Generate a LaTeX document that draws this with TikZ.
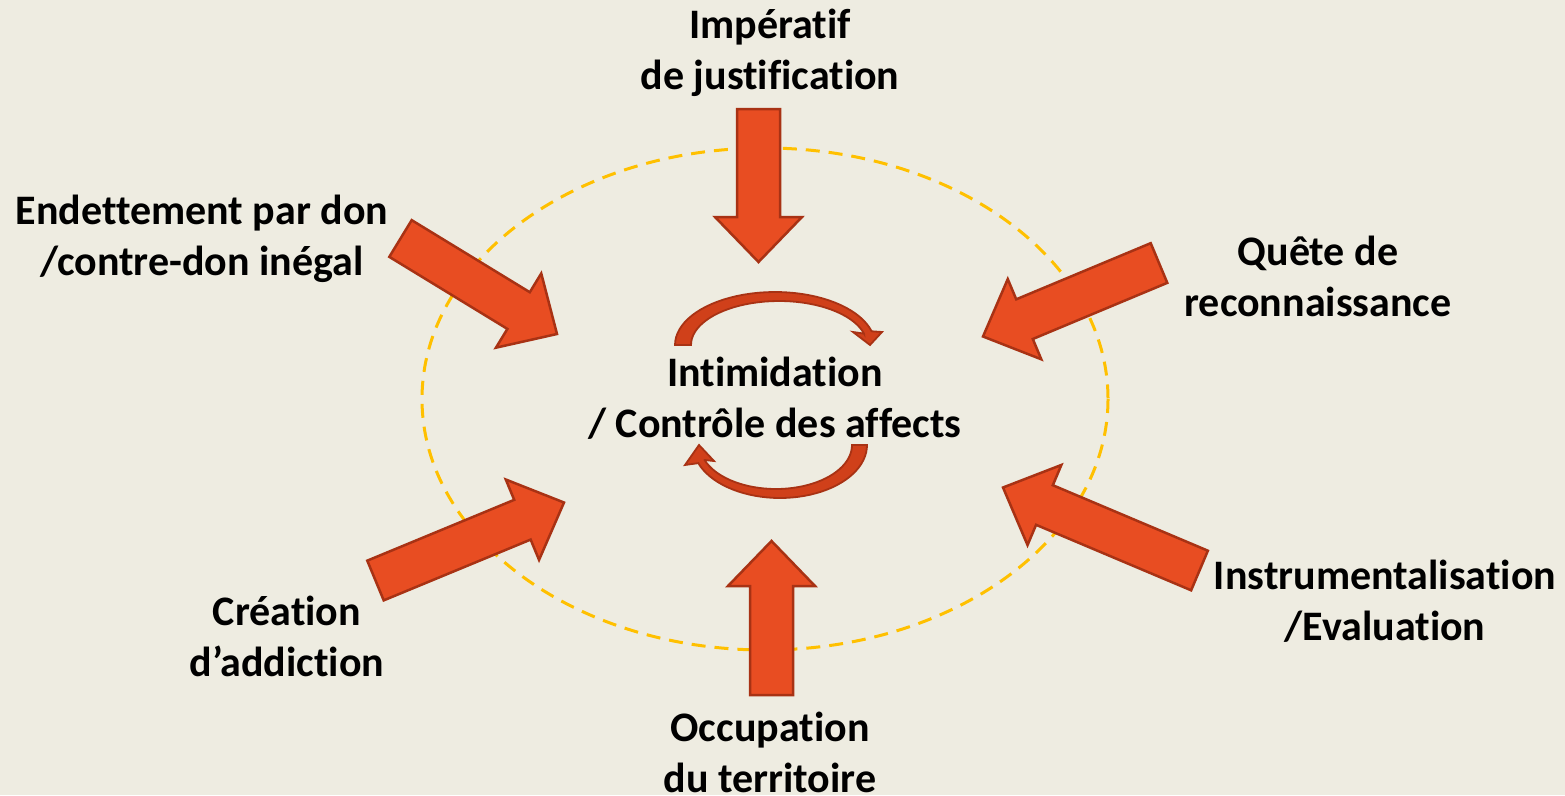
\documentclass[tikz,border=0pt]{standalone}
\usepackage{fontspec}
\setmainfont[Ligatures={NoCommon}]{Carlito}
\usetikzlibrary{calc}
\definecolor{bg}{RGB}{238,236,225}
\definecolor{arrfill}{RGB}{232,77,34}
\definecolor{arrdraw}{RGB}{168,50,20}
\definecolor{arcfill}{RGB}{208,64,26}
\definecolor{ring}{RGB}{255,192,0}
\newcommand\blockarrow[3]{%
  \coordinate (#1-t) at (#2);
  \coordinate (#1-p) at (#3);
  \coordinate (#1-h) at ($(#1-p)!45pt!(#1-t)$);
  \draw[blockarr] ($(#1-t)!21.5pt!90:(#1-p)$) -- ($(#1-h)!21.5pt!90:(#1-p)$) -- ($(#1-h)!43.5pt!90:(#1-p)$) -- (#1-p) -- ($(#1-h)!43.5pt!-90:(#1-p)$) -- ($(#1-h)!21.5pt!-90:(#1-p)$) -- ($(#1-t)!21.5pt!-90:(#1-p)$) -- cycle;}
\begin{document}
\begin{tikzpicture}[x=1pt,y=-1pt,
  blockarr/.style={fill=arrfill, draw=arrdraw, line width=2.5pt, line join=miter},
  curvarr/.style={fill=arcfill, draw=arrdraw, line width=1.8pt, line join=miter},
  lbl/.style={font=\fontsize{42}{51}\selectfont\bfseries, align=center, text=black, inner sep=0pt}]
\fill[bg] (0,0) rectangle (1565,795);
\useasboundingbox (0,0) rectangle (1565,795);
% dashed ring
\node[draw=none, inner sep=0pt] (ringc) at (765,399) {};
\draw[ring, line width=3pt, dash pattern=on 14pt off 9pt] (ringc) ellipse [x radius=343, y radius=251];
% labels
\node[lbl] (imp) at (770,53) {Impératif\\de justification};
\node[lbl] (end) at (202,239) {Endettement par don\\/contre-don inégal};
\node[lbl] (que) at (1318,276) {Quête de\\reconnaissance};
\node[lbl] (int) at (775,398) {Intimidation\\/ Contrôle des affects};
\node[lbl] (cre) at (287,636) {Création\\d’addiction};
\node[lbl] (ins) at (1385,601) {Instrumentalisation\\/Evaluation};
\node[lbl] (occ) at (770,752) {Occupation\\du territoire};
% block arrows
\blockarrow{a1}{758.5,109}{758.5,262}
\blockarrow{a2}{771.5,695}{771.5,541}
\blockarrow{a3}{400.5,238.5}{557,334}
\blockarrow{a4}{1159,263}{983,336.5}
\blockarrow{a5}{375.5,580.5}{564,502.5}
\blockarrow{a6}{1199.5,570.5}{1003,487.5}
% curved arrows
\draw[curvarr] plot[domain=180:345, samples=40] ({775+100*cos(\x)},{345+53*sin(\x)})
  -- (882,332) -- (870,345) -- (853,332) -- (864,333.6)
  -- plot[domain=345:180, samples=40] ({779+88*cos(\x)},{345+44*sin(\x)}) -- cycle;
\draw[curvarr] plot[domain=0:160, samples=40] ({780+87*cos(\x)},{445+53*sin(\x)})
  -- (685,465) -- (699,445) -- (714,461) -- (704.6,460)
  -- plot[domain=160:0, samples=40] ({776+76*cos(\x)},{445+44*sin(\x)}) -- cycle;
\end{tikzpicture}
\end{document}
